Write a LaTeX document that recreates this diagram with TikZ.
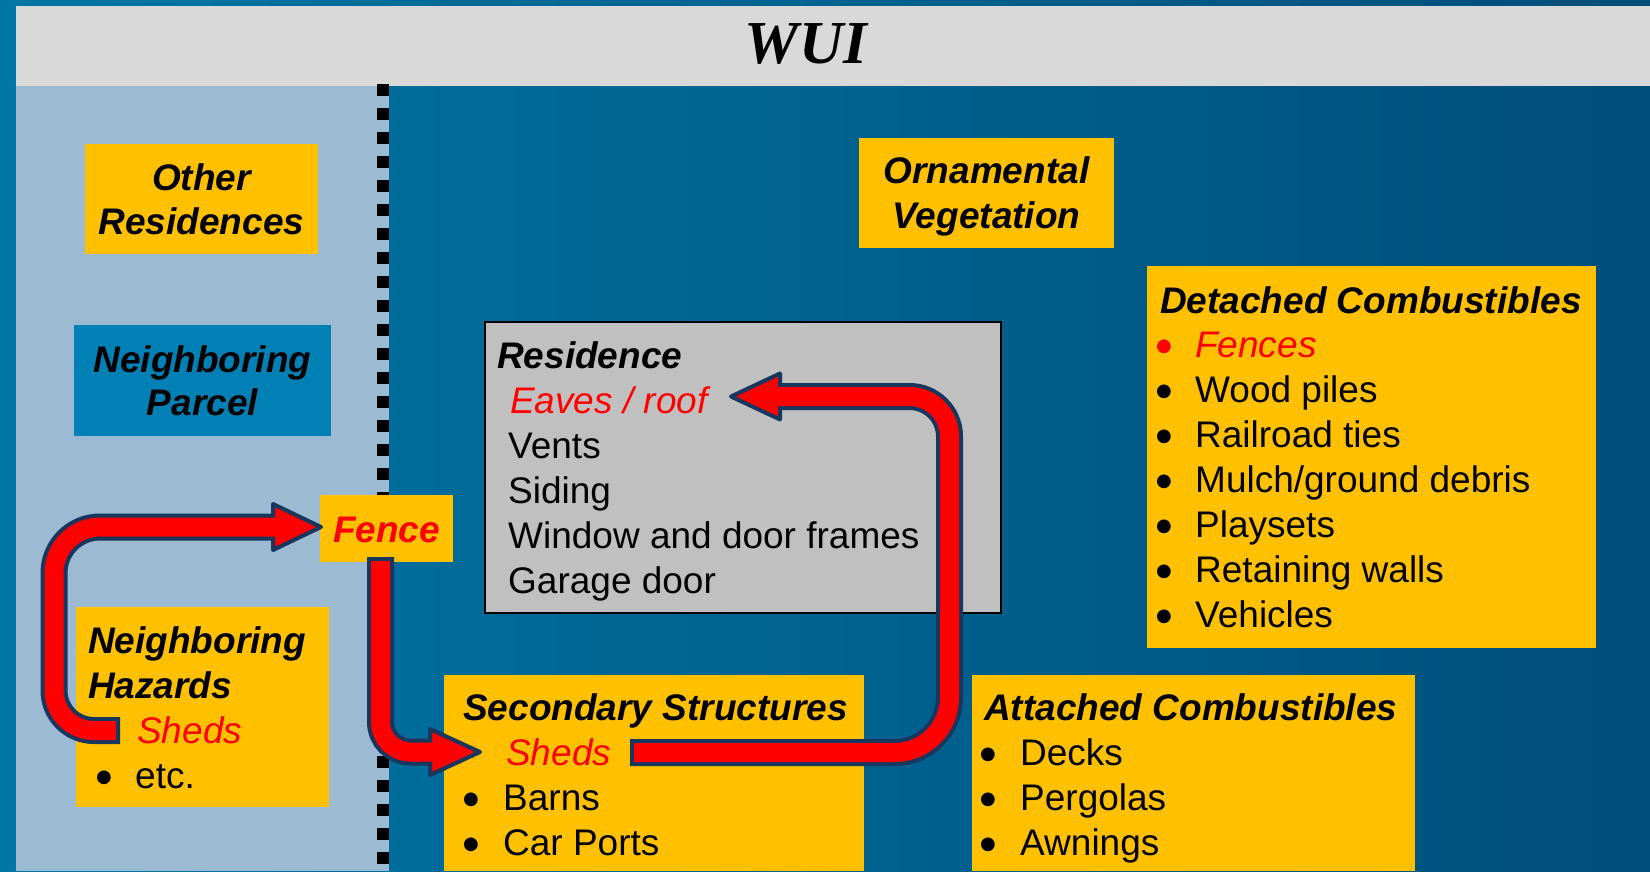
\documentclass[tikz,border=0pt]{standalone}
\usepackage{fontspec}
\setmainfont{Liberation Sans}
\newfontfamily\tnr{Liberation Serif}
\newfontfamily\djv{DejaVu Sans}
\definecolor{bgl}{RGB}{0,118,165}
\definecolor{bgr}{RGB}{0,78,122}
\definecolor{titlebar}{RGB}{217,217,217}
\definecolor{panel}{RGB}{156,187,211}
\definecolor{yel}{RGB}{255,192,0}
\definecolor{parcel}{RGB}{0,128,180}
\definecolor{resgray}{RGB}{192,192,192}
\definecolor{arrnavy}{RGB}{23,55,94}
\newcommand{\fs}{\fontsize{37}{45}\selectfont}
\newcommand{\bigbul}{\raisebox{6pt}{\djv\fontsize{18}{22}\selectfont ●}}
\begin{document}
\begin{tikzpicture}[x=1pt,y=-1pt,
  box/.style={anchor=north west, inner sep=0pt, draw=none},
  ybox/.style={box, fill=yel},
  txt/.style={anchor=base west, inner sep=0pt, font=\fs},
  ttl/.style={anchor=base west, inner sep=0pt, font=\fs\bfseries\itshape},
  redit/.style={anchor=base west, inner sep=0pt, font=\fs\itshape, text=red},
  ctr/.style={anchor=base, inner sep=0pt, font=\fs\bfseries\itshape},
  bul/.style={anchor=base, inner sep=0pt},
  navyshaft/.style={draw=arrnavy, line width=27pt},
  redshaft/.style={draw=red, line width=19pt, shorten <=4pt, shorten >=-5pt},
  headst/.style={fill=red, draw=arrnavy, line width=4pt, line join=round}]
\useasboundingbox (0,0) rectangle (1650,871);
\shade[left color=bgl, right color=bgr] (0,0) rectangle (1650,871);
% title bar
\fill[titlebar] (16,6) rectangle (1650,86);
\node[anchor=base, inner sep=0pt, font=\tnr\fontsize{61}{70}\selectfont\bfseries\itshape] (wui) at (806,63) {WUI};
% neighboring panel
\fill[panel] (16,86) rectangle (389,871);
\draw[line width=12pt, dash pattern=on 12pt off 12pt] (383,84) -- (383,871);

% boxes
\node[ybox, minimum width=233pt, minimum height=110pt] (orbox) at (85,144) {};
\node[box, fill=parcel, minimum width=257pt, minimum height=111pt] (npbox) at (74,325) {};
\node[ybox, minimum width=253pt, minimum height=200pt] (nhbox) at (76,607) {};
\node[ybox, minimum width=133pt, minimum height=67pt] (fencebox) at (320,495) {};
\node[box, fill=resgray, draw=black, line width=2pt, minimum width=516pt, minimum height=291pt] (resbox) at (484,321) {};
\node[ybox, minimum width=255pt, minimum height=110pt] (ovbox) at (859,138) {};
\node[ybox, minimum width=449pt, minimum height=382pt] (dcbox) at (1147,266) {};
\node[ybox, minimum width=420pt, minimum height=196pt] (ssbox) at (444,675) {};
\node[ybox, minimum width=443pt, minimum height=196pt] (acbox) at (972,675) {};

% centred labels
\node[ctr] (or1) at (201.5,190) {Other};
\node[ctr] (or2) at (201.5,234) {Residences};
\node[ctr] (np1) at (202.5,372) {Neighboring};
\node[ctr] (np2) at (202.5,415) {Parcel};
\node[ctr] (ov1) at (986.5,183) {Ornamental};
\node[ctr] (ov2) at (986.5,228) {Vegetation};
\node[ctr, text=red] (fencetxt) at (386.5,542) {Fence};

% neighboring hazards
\node[ttl] (nh1) at (88,653) {Neighboring};
\node[ttl] (nh2) at (88,698) {Hazards};
\node[redit] (nhsheds) at (137,743) {Sheds};
\node[bul] (nhb) at (104,788) {\bigbul};
\node[txt] (nhetc) at (135,788) {etc.};

% residence
\node[ttl] (res0) at (497,368) {Residence};
\node[redit] (eaves) at (510,413) {Eaves / roof};
\foreach \t [count=\i] in {Vents, Siding, Window and door frames, Garage door}
  \node[txt] (res\i) at (508,413+45*\i) {\t};

% detached combustibles
\node[ttl] (dc0) at (1160,313) {Detached Combustibles};
\node[bul, text=red] (dcb0) at (1164,357) {\bigbul};
\node[redit] (dcfences) at (1195,357) {Fences};
\foreach \t [count=\i] in {Wood piles, Railroad ties, Mulch/ground debris, Playsets, Retaining walls, Vehicles}{
  \node[bul] (dcb\i) at (1164,357+45*\i) {\bigbul};
  \node[txt] (dc\i) at (1195,357+45*\i) {\t};
}

% secondary structures
\node[ttl] (ss0) at (463,720) {Secondary Structures};
\node[redit] (sssheds) at (506,765) {Sheds};
\foreach \t [count=\i] in {Barns, Car Ports}{
  \node[bul] (ssb\i) at (471,765+45*\i) {\bigbul};
  \node[txt] (ss\i) at (503,765+45*\i) {\t};
}

% attached combustibles
\node[ttl] (ac0) at (984,720) {Attached Combustibles};
\foreach \t [count=\i from 0] in {Decks, Pergolas, Awnings}{
  \node[bul] (acb\i) at (988,765+45*\i) {\bigbul};
  \node[txt] (ac\i) at (1020,765+45*\i) {\t};
}

% arrow 1: neighboring sheds -> fence
\coordinate (a1t) at (120,730.5);
\coordinate (a1b) at (273,527);
\coordinate (a1p) at (321,527);
\draw[navyshaft] (a1t) -- (94,730.5) arc[start angle=90,end angle=180,radius=40] -- (54,573) arc[start angle=180,end angle=270,radius=46] -- (a1b);
\draw[headst] (273,504) -- (a1p) -- (273,550) -- cycle;
\draw[redshaft] (a1t) -- (94,730.5) arc[start angle=90,end angle=180,radius=40] -- (54,573) arc[start angle=180,end angle=270,radius=46] -- (a1b);

% arrow 2: fence -> secondary sheds
\coordinate (a2t) at (380.5,557);
\coordinate (a2b) at (430,752);
\coordinate (a2p) at (480,752);
\draw[navyshaft] (a2t) -- (380.5,722) arc[start angle=180,end angle=90,radius=30] -- (a2b);
\draw[headst] (430,729) -- (a2p) -- (430,775) -- cycle;
\draw[redshaft] (a2t) -- (380.5,722) arc[start angle=180,end angle=90,radius=30] -- (a2b);

% arrow 3: secondary sheds -> eaves / roof
\coordinate (a3t) at (630,752.5);
\coordinate (a3b) at (780,396.5);
\coordinate (a3p) at (731,396.5);
\draw[navyshaft] (a3t) -- (894.5,752.5) arc[start angle=90,end angle=0,radius=55] -- (949.5,436.5) arc[start angle=0,end angle=-90,radius=40] -- (a3b);
\draw[headst] (780,373.5) -- (a3p) -- (780,419.5) -- cycle;
\draw[redshaft] (a3t) -- (894.5,752.5) arc[start angle=90,end angle=0,radius=55] -- (949.5,436.5) arc[start angle=0,end angle=-90,radius=40] -- (a3b);
\end{tikzpicture}
\end{document}
